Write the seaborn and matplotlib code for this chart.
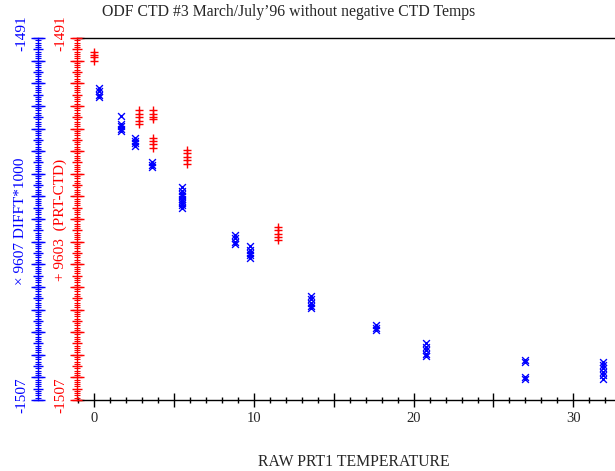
import numpy as np
import pandas as pd
import matplotlib
matplotlib.use("Agg")
import matplotlib.pyplot as plt
import matplotlib.transforms as mtransforms
import seaborn as sns
from matplotlib.ticker import MultipleLocator, FuncFormatter

# ---------------- data ----------------
# 9603 (PRT-CTD)  red '+'
red_x = [0.0, 0.0, 0.0, 0.0,
         2.8, 2.8, 2.8, 2.8, 2.8,
         3.7, 3.7, 3.7, 3.7,
         3.7, 3.7, 3.7, 3.7,
         5.85, 5.85, 5.85, 5.85, 5.85,
         11.55, 11.55, 11.55, 11.55, 11.55]
red_y = [-1491.6, -1491.75, -1491.85, -1492.0,
         -1494.2, -1494.35, -1494.5, -1494.65, -1494.8,
         -1494.2, -1494.35, -1494.5, -1494.6,
         -1495.4, -1495.55, -1495.7, -1495.85,
         -1495.95, -1496.1, -1496.25, -1496.4, -1496.55,
         -1499.35, -1499.5, -1499.65, -1499.8, -1499.95]

# 9607 DIFFT*1000  blue 'x'
blue_x = [0.35, 0.35, 0.35, 0.35,
          1.7, 1.7, 1.7, 1.7, 1.7,
          2.55, 2.55, 2.55, 2.55,
          3.65, 3.65, 3.65,
          5.5, 5.5, 5.5, 5.5, 5.5, 5.5, 5.5, 5.5, 5.5,
          8.85, 8.85, 8.85, 8.85,
          9.8, 9.8, 9.8, 9.8, 9.8,
          13.6, 13.6, 13.6, 13.6, 13.6,
          17.65, 17.65, 17.65,
          20.75, 20.75, 20.75, 20.75, 20.75,
          26.95, 26.95, 26.95, 26.95,
          31.85, 31.85, 31.85, 31.85, 31.85, 31.85]
blue_y = [-1493.2, -1493.35, -1493.5, -1493.6,
          -1494.45, -1494.8, -1494.9, -1495.0, -1495.1,
          -1495.4, -1495.55, -1495.65, -1495.78,
          -1496.5, -1496.6, -1496.7,
          -1497.6, -1497.75, -1497.9, -1498.0, -1498.1, -1498.2, -1498.3, -1498.4, -1498.5,
          -1499.7, -1499.85, -1500.0, -1500.1,
          -1500.2, -1500.35, -1500.5, -1500.6, -1500.72,
          -1502.4, -1502.55, -1502.7, -1502.85, -1502.95,
          -1503.7, -1503.8, -1503.9,
          -1504.5, -1504.65, -1504.8, -1504.95, -1505.05,
          -1505.25, -1505.3, -1506.0, -1506.05,
          -1505.3, -1505.45, -1505.6, -1505.75, -1505.9, -1506.05]

title = "ODF CTD #3 March/July\u201996 without negative CTD Temps"
xlabel = "RAW PRT1 TEMPERATURE"
red_label = "+ 9603  (PRT-CTD)"
blue_label = "\u00d7 9607 DIFFT*1000"
y_min, y_max = -1507, -1491
x_min, x_max = -1.05, 32.6

red_df = pd.DataFrame({"x": red_x, "y": red_y})
blue_df = pd.DataFrame({"x": blue_x, "y": blue_y})

# ---------------- style ----------------
sns.set_style("white")
plt.rcParams["font.family"] = ["Liberation Serif", "DejaVu Serif"]

W, H = 615, 471
fig = plt.figure(figsize=(W / 100, H / 100), dpi=100)
L, R, T, B = 77, 615, 38, 400
pos = [L / W, 1 - B / H, (R - L) / W, (B - T) / H]
ax = fig.add_axes(pos)
ax.set_facecolor("none")

RED = (1, 0, 0)
BLUE = (0, 0, 1)
LMAJ, LMED, LMIN = 9.5, 7.0, 4.5


def setup_yaxis(a, color, outward, lmaj, lmin, show_spine=True):
    a.set_ylim(y_min, y_max)
    a.yaxis.set_ticks_position("left")
    a.yaxis.set_label_position("left")
    a.spines["left"].set_position(("outward", outward))
    a.spines["left"].set_color(color)
    a.spines["left"].set_linewidth(1.0)
    a.spines["left"].set_visible(show_spine)
    for s in ["right", "top", "bottom"]:
        a.spines[s].set_visible(False)
    a.tick_params(axis="y", which="major", direction="inout", length=lmaj,
                  width=1.0, color=color, labelcolor=color, labelsize=11,
                  pad=2.5, labelrotation=90)
    a.tick_params(axis="y", which="minor", direction="inout", length=lmin,
                  width=0.8, color=color)


def end_formatter(v, p):
    if abs(v - y_max) < 1e-6 or abs(v - y_min) < 1e-6:
        return f"{int(round(v))}"
    return ""


# red (main) axis
ax.set_xlim(x_min, x_max)
setup_yaxis(ax, RED, 0, LMAJ, LMIN)
ax.yaxis.set_major_locator(MultipleLocator(1))
ax.yaxis.set_minor_locator(MultipleLocator(0.1))
ax.yaxis.set_major_formatter(FuncFormatter(end_formatter))
for s in ["top", "bottom"]:
    ax.spines[s].set_visible(True)
    ax.spines[s].set_color("black")
    ax.spines[s].set_linewidth(1.0)

# x axis ticks
ax.xaxis.set_ticks_position("bottom")
ax.xaxis.set_major_locator(MultipleLocator(5))
ax.xaxis.set_minor_locator(MultipleLocator(1))
ax.xaxis.set_major_formatter(FuncFormatter(lambda v, p: f"{int(round(v))}" if abs(v % 10) < 1e-6 else ""))
ax.tick_params(axis="x", which="major", direction="inout", length=9.5, width=1.0,
               color="black", labelsize=10.5, pad=4)
ax.tick_params(axis="x", which="minor", direction="inout", length=4.5, width=1.0,
               color="black")

# red medium ticks (every 0.5)
axm_r = ax.twinx()
setup_yaxis(axm_r, RED, 0, LMED, 0, show_spine=False)
axm_r.yaxis.set_major_locator(MultipleLocator(0.5))
axm_r.yaxis.set_major_formatter(FuncFormatter(lambda v, p: ""))
axm_r.yaxis.set_minor_locator(MultipleLocator(100))

# blue axis
off = (L - 38) * 72 / 100
axb = ax.twinx()
setup_yaxis(axb, BLUE, off, LMAJ, LMIN)
axb.yaxis.set_major_locator(MultipleLocator(1))
axb.yaxis.set_minor_locator(MultipleLocator(0.1))
axb.yaxis.set_major_formatter(FuncFormatter(end_formatter))

axm_b = ax.twinx()
setup_yaxis(axm_b, BLUE, off, LMED, 0, show_spine=False)
axm_b.yaxis.set_major_locator(MultipleLocator(0.5))
axm_b.yaxis.set_major_formatter(FuncFormatter(lambda v, p: ""))
axm_b.yaxis.set_minor_locator(MultipleLocator(100))

# data
sns.scatterplot(data=red_df, x="x", y="y", ax=ax, marker="+", color=RED,
                s=32, linewidth=1.0, legend=False, zorder=3, clip_on=False)
sns.scatterplot(data=blue_df, x="x", y="y", ax=axb, marker="x", color=BLUE,
                s=24, linewidth=1.0, legend=False, zorder=3, clip_on=False)
ax.set_xlim(x_min, x_max)
axb.set_xlim(x_min, x_max)
for a in (ax, axb, axm_r, axm_b):
    a.set_ylim(y_min, y_max)
    a.set_xlabel("")
    a.set_ylabel("")

# texts
fig.text(289 / W, 1 - 12 / H, title, ha="center", va="center", fontsize=11.3)
fig.text(354 / W, 1 - 462 / H, xlabel, ha="center", va="center", fontsize=11.3)
fig.text(20 / W, 1 - 221 / H, blue_label, ha="center", va="center",
         rotation=90, fontsize=11, color=BLUE)
fig.text(60 / W, 1 - 220 / H, red_label, ha="center", va="center",
         rotation=90, fontsize=11, color=RED)

# nudge rotated y tick labels slightly upward, as in the reference
fig.canvas.draw()
shift = mtransforms.ScaledTranslation(0, 5 / 100, fig.dpi_scale_trans)
for a in (ax, axb):
    for tick in a.yaxis.get_major_ticks():
        tick.label1.set_verticalalignment("center")
        tick.label1.set_transform(tick.label1.get_transform() + shift)

fig.savefig("out.png", dpi=100)
